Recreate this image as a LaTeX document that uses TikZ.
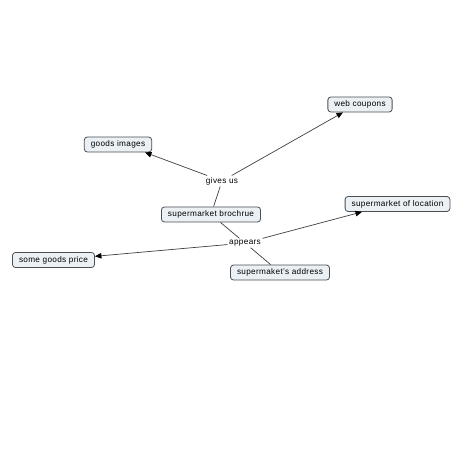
\documentclass[tikz,border=0pt]{standalone}
\usepackage{fontspec}
\setmainfont{Liberation Sans}[LetterSpace=4]
\usetikzlibrary{arrows.meta}
\definecolor{boxfill}{HTML}{EAF0F3}
\definecolor{boxline}{HTML}{4A4F55}
\definecolor{linkcol}{HTML}{404040}
\tikzset{
  concept/.style={draw=boxline, line width=0.8pt, fill=boxfill, rounded corners=3pt,
    font=\fontsize{8.2}{9}\selectfont, text=black, inner xsep=6.5pt, inner ysep=0pt,
    minimum height=15pt},
  linkword/.style={font=\fontsize{8.2}{9}\selectfont, text=black, inner sep=1.5pt, fill=white},
  link/.style={draw=linkcol, line width=0.7pt},
  arr/.style={link, -{Triangle[length=6.5pt,width=5.5pt,fill=black,color=black]}}
}
\begin{document}
\begin{tikzpicture}[x=1pt,y=-1pt]
\useasboundingbox[fill=white] (0,0) rectangle (452,452);
\node[concept] (web) at (360,104.5) {web coupons};
\node[concept] (img) at (118,144.5) {goods images};
\node[linkword] (gives) at (222,181) {gives us};
\node[concept] (broch) at (211,214.5) {supermarket brochrue};
\node[concept] (loc) at (397.5,204) {supermarket of location};
\node[linkword] (app) at (245,243) {appears};
\node[concept] (price) at (53.5,260) {some goods price};
\node[concept] (addr) at (280,272.5) {supermaket's address};
\draw[link] (broch) -- (gives);
\draw[arr] (gives) -- (img.south -| 145,0);
\draw[arr] (gives) -- (web.south -| 343,0);
\draw[link] (broch) -- (app);
\draw[arr] (app) -- (loc.south -| 362,0);
\draw[arr] (app) -- (price);
\draw[link] (app) -- (addr);
\end{tikzpicture}
\end{document}
